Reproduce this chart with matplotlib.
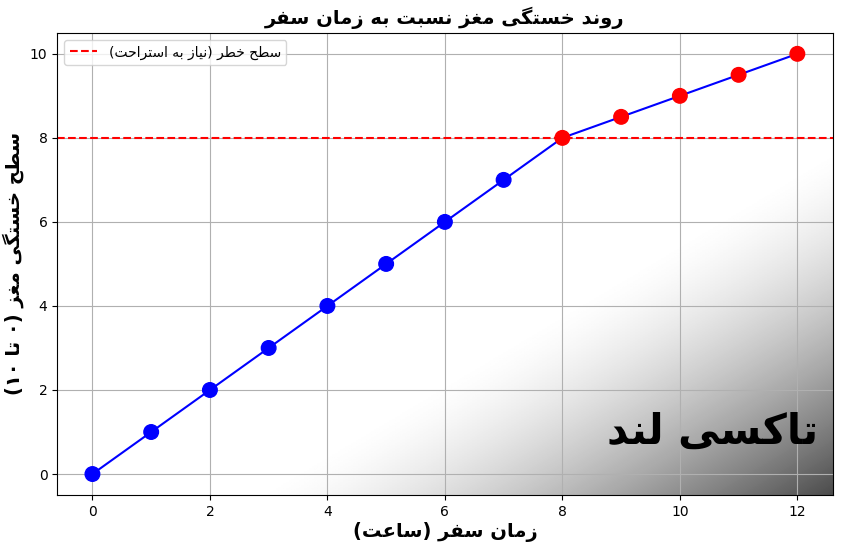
import matplotlib
matplotlib.use("Agg")
import matplotlib.pyplot as plt
import numpy as np

hours = [0, 1, 2, 3, 4, 5, 6, 7, 8, 9, 10, 11, 12]
fatigue = [0, 1, 2, 3, 4, 5, 6, 7, 8, 8.5, 9, 9.5, 10]
danger_level = 8

TITLE = "روند خستگی مغز نسبت به زمان سفر"
XLABEL = "زمان سفر (ساعت)"
YLABEL = "سطح خستگی مغز (۰ تا ۱۰)"
LEGEND = "سطح خطر (نیاز به استراحت)"
BRAND = "تاکسی لند"

# isolated, final, initial, medial presentation forms
FORMS = {
    "ا": (0xFE8D, 0xFE8E, None, None), "آ": (0xFE81, 0xFE82, None, None),
    "ب": (0xFE8F, 0xFE90, 0xFE91, 0xFE92), "ت": (0xFE95, 0xFE96, 0xFE97, 0xFE98),
    "ح": (0xFEA1, 0xFEA2, 0xFEA3, 0xFEA4), "خ": (0xFEA5, 0xFEA6, 0xFEA7, 0xFEA8),
    "د": (0xFEA9, 0xFEAA, None, None), "ر": (0xFEAD, 0xFEAE, None, None),
    "ز": (0xFEAF, 0xFEB0, None, None), "س": (0xFEB1, 0xFEB2, 0xFEB3, 0xFEB4),
    "ط": (0xFEC1, 0xFEC2, 0xFEC3, 0xFEC4), "ع": (0xFEC9, 0xFECA, 0xFECB, 0xFECC),
    "غ": (0xFECD, 0xFECE, 0xFECF, 0xFED0), "ف": (0xFED1, 0xFED2, 0xFED3, 0xFED4),
    "ل": (0xFEDD, 0xFEDE, 0xFEDF, 0xFEE0), "م": (0xFEE1, 0xFEE2, 0xFEE3, 0xFEE4),
    "ن": (0xFEE5, 0xFEE6, 0xFEE7, 0xFEE8), "ه": (0xFEE9, 0xFEEA, 0xFEEB, 0xFEEC),
    "و": (0xFEED, 0xFEEE, None, None), "ی": (0xFBFC, 0xFBFD, 0xFBFE, 0xFBFF),
    "ک": (0xFB8E, 0xFB8F, 0xFB90, 0xFB91), "گ": (0xFB92, 0xFB93, 0xFB94, 0xFB95),
}


def fa(text):
    out = []
    n = len(text)
    for i, ch in enumerate(text):
        if ch not in FORMS:
            out.append(ch)
            continue
        f = FORMS[ch]
        prev = text[i - 1] if i > 0 else ""
        nxt = text[i + 1] if i < n - 1 else ""
        join_prev = prev in FORMS and FORMS[prev][2] is not None
        join_next = nxt in FORMS and f[2] is not None
        if join_prev and join_next:
            code = f[3]
        elif join_prev:
            code = f[1]
        elif join_next:
            code = f[2]
        else:
            code = f[0]
        out.append(chr(code))
    vis = "".join(out)[::-1]
    # keep digit runs left-to-right, mirror brackets
    res, run = [], []
    for ch in vis:
        if ch.isdigit():
            run.append(ch)
        else:
            res.extend(run[::-1]); run = []
            res.append({"(": ")", ")": "("}.get(ch, ch))
    res.extend(run[::-1])
    return "".join(res)


plt.rcParams["font.family"] = ["DejaVu Sans"]
fig, ax = plt.subplots(figsize=(8.41, 5.47), dpi=100)
fig.subplots_adjust(left=0.068, right=0.99, top=0.94, bottom=0.095)

xlim = (-0.6, 12.6)
ylim = (-0.5, 10.5)
gx, gy = np.meshgrid(np.linspace(0, 1, 300), np.linspace(0, 1, 300))
shade = np.clip((gx + gy - 1.25) / 0.75, 0, 1) ** 1.5
ax.imshow(1 - 0.7 * shade, cmap="gray", vmin=0, vmax=1, extent=(*xlim, *ylim),
          origin="upper", aspect="auto", zorder=0)

colors = ["red" if v >= danger_level else "blue" for v in fatigue]
ax.plot(hours, fatigue, color="blue", linewidth=1.5, zorder=2)
ax.scatter(hours, fatigue, color=colors, s=110, zorder=3)
ax.axhline(danger_level, color="red", linestyle="--", linewidth=1.5, label=fa(LEGEND), zorder=2)

ax.set_xlim(*xlim)
ax.set_ylim(*ylim)
ax.set_xticks(range(0, 13, 2))
ax.set_yticks(range(0, 11, 2))
ax.grid(True, color="#b0b0b0", linewidth=0.8, zorder=1)
ax.set_axisbelow(True)
ax.set_title(fa(TITLE), fontsize=14, fontweight="bold", pad=6)
ax.set_xlabel(fa(XLABEL), fontsize=14, fontweight="bold", labelpad=2)
ax.set_ylabel(fa(YLABEL), fontsize=14, fontweight="bold")
ax.legend(loc="upper left", fontsize=10)
ax.text(12.35, 1.0, fa(BRAND), fontsize=30, fontweight="bold", ha="right", va="center", zorder=4)

fig.savefig("out.png", dpi=100)
